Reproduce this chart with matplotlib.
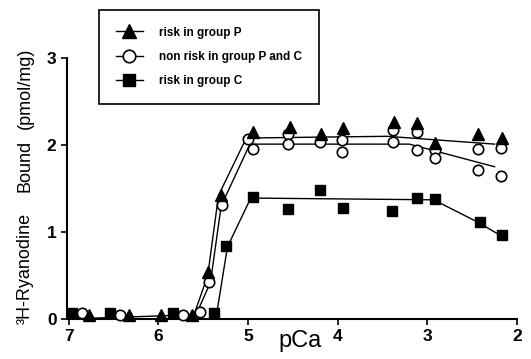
import matplotlib
matplotlib.use("Agg")
import matplotlib.pyplot as plt
from matplotlib.lines import Line2D

plt.rcParams['font.family'] = ['Liberation Sans', 'DejaVu Sans']

# measured points
tri_x = [6.78, 6.33, 5.97, 5.62, 5.45, 5.30, 4.94, 4.53, 4.19, 3.94, 3.37, 3.11, 2.91, 2.44, 2.17]
tri_y = [0.05, 0.05, 0.05, 0.05, 0.54, 1.43, 2.15, 2.21, 2.13, 2.19, 2.27, 2.25, 2.02, 2.13, 2.08]

circ_x = [6.85, 6.43, 5.73, 5.54, 5.44, 5.29, 5.00, 4.94, 4.55, 4.55, 4.20, 3.95, 3.95,
          3.38, 3.38, 3.12, 3.12, 2.91, 2.91, 2.44, 2.44, 2.18, 2.18]
circ_y = [0.07, 0.05, 0.05, 0.08, 0.43, 1.31, 2.07, 1.95, 2.13, 2.01, 2.03, 2.06, 1.92,
          2.17, 2.04, 2.15, 1.94, 1.94, 1.85, 1.95, 1.71, 1.96, 1.64]

sq_x = [6.96, 6.54, 5.84, 5.38, 5.25, 4.95, 4.55, 4.20, 3.94, 3.39, 3.12, 2.91, 2.41, 2.17]
sq_y = [0.07, 0.07, 0.07, 0.07, 0.84, 1.40, 1.27, 1.48, 1.28, 1.24, 1.39, 1.38, 1.12, 0.97]

# fitted curves
tri_fit_x = [7.0, 5.62, 5.45, 5.33, 5.02, 3.45, 2.25]
tri_fit_y = [0.0, 0.0, 0.50, 1.42, 2.08, 2.10, 2.01]
circ_fit_x = [7.0, 5.58, 5.42, 5.30, 4.98, 3.20, 2.25]
circ_fit_y = [0.0, 0.05, 0.42, 1.30, 2.01, 2.01, 1.75]
sq_fit_x = [7.0, 5.36, 5.23, 4.97, 2.93, 2.45, 2.20]
sq_fit_y = [0.0, 0.0, 0.83, 1.39, 1.37, 1.12, 0.97]

labels = ["risk in group P", "non risk in group P and C", "risk in group C"]
x_ticks = [7, 6, 5, 4, 3, 2]
y_ticks = [0, 1, 2, 3]

W, H = 531, 359
fig = plt.figure(figsize=(W / 100, H / 100), dpi=100)
ax = fig.add_axes([67 / W, 1 - 319 / H, 450 / W, 261 / H])

ax.plot(tri_fit_x, tri_fit_y, color='black', lw=1.0, zorder=2)
ax.plot(circ_fit_x, circ_fit_y, color='black', lw=1.0, zorder=2)
ax.plot(sq_fit_x, sq_fit_y, color='black', lw=1.0, zorder=2)

ax.plot(circ_x, circ_y, 'o', ms=7.5, mfc='white', mec='black', mew=1.2, ls='none', zorder=3, clip_on=False)
ax.plot(tri_x, tri_y, '^', ms=9, mfc='black', mec='black', ls='none', zorder=4, clip_on=False)
ax.plot(sq_x, sq_y, 's', ms=7, mfc='black', mec='black', ls='none', zorder=4, clip_on=False)

ax.set_xlim(7.02, 2.0)
ax.set_ylim(0, 3)
ax.set_xticks(x_ticks)
ax.set_yticks(y_ticks)
ax.tick_params(labelsize=12.5, width=1.2, length=4)
for lab in ax.get_xticklabels() + ax.get_yticklabels():
    lab.set_fontweight('bold')

for s in ['top', 'right']:
    ax.spines[s].set_visible(False)
for s in ['left', 'bottom']:
    ax.spines[s].set_linewidth(1.5)

# axis titles
fig.text(300 / W, 1 - 341 / H, "pCa", fontsize=17, ha='center', va='center')
fig.text(25 / W, 1 - 268 / H, "³H-Ryanodine", fontsize=13, rotation=90, ha='center', va='center')
fig.text(25 / W, 1 - 166 / H, "Bound", fontsize=13, rotation=90, ha='center', va='center')
fig.text(25 / W, 1 - 88 / H, "(pmol/mg)", fontsize=13, rotation=90, ha='center', va='center')

handles = [
    Line2D([], [], color='black', lw=1.0, marker='^', ms=9.5, mfc='black', mec='black'),
    Line2D([], [], color='black', lw=1.0, marker='o', ms=9, mfc='white', mec='black', mew=1.2),
    Line2D([], [], color='black', lw=1.0, marker='s', ms=8.5, mfc='black', mec='black'),
]
leg = fig.legend(handles, labels, loc='upper left', bbox_to_anchor=(99 / W, 1 - 10 / H),
                 fancybox=False, edgecolor='black', framealpha=1,
                 prop={'weight': 'bold', 'size': 8.5}, handlelength=2.3,
                 borderpad=1.4, labelspacing=1.05, handletextpad=1.4, borderaxespad=0)
leg.get_frame().set_linewidth(1.2)

fig.savefig("out.png", dpi=100)
